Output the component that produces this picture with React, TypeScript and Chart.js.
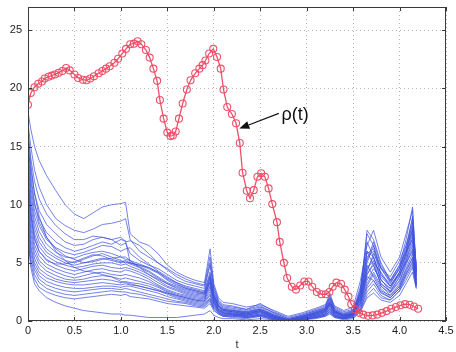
import React, { useEffect, useRef } from "react";
import { Chart, registerables } from "chart.js";

Chart.register(...registerables);

// ---- red curve rho(t) ----
const rhoT = [0, 0.03, 0.07, 0.11, 0.15, 0.18, 0.22, 0.255, 0.29, 0.33, 0.37, 0.41, 0.45, 0.5, 0.54, 0.59, 0.63, 0.67, 0.71, 0.76, 0.8, 0.84, 0.88, 0.93, 0.97, 1.015, 1.055, 1.1, 1.14, 1.18, 1.22, 1.27, 1.31, 1.35, 1.39, 1.42, 1.46, 1.5, 1.535, 1.56, 1.59, 1.625, 1.665, 1.71, 1.75, 1.8, 1.845, 1.88, 1.91, 1.95, 1.995, 2.035, 2.075, 2.105, 2.145, 2.195, 2.24, 2.28, 2.31, 2.355, 2.39, 2.43, 2.47, 2.51, 2.55, 2.59, 2.63, 2.68, 2.71, 2.755, 2.79, 2.84, 2.885, 2.93, 2.975, 3.02, 3.06, 3.11, 3.16, 3.205, 3.245, 3.28, 3.32, 3.37, 3.41, 3.45, 3.48, 3.52, 3.565, 3.61, 3.66, 3.71, 3.76, 3.81, 3.86, 3.91, 3.96, 4.01, 4.06, 4.11, 4.155, 4.2];
const rhoV = [18.6, 19.6, 20.1, 20.4, 20.6, 20.85, 21.0, 21.1, 21.2, 21.35, 21.5, 21.75, 21.55, 21.2, 20.9, 20.75, 20.7, 20.85, 21.05, 21.3, 21.5, 21.7, 21.9, 22.2, 22.55, 23.0, 23.4, 23.8, 23.85, 24.05, 23.8, 23.3, 22.65, 21.7, 20.65, 19.0, 17.4, 16.2, 15.9, 15.95, 16.3, 17.4, 18.7, 19.9, 20.7, 21.3, 21.7, 22.0, 22.4, 23.0, 23.4, 22.7, 21.7, 19.9, 18.4, 17.8, 17.0, 15.3, 12.75, 11.2, 10.55, 11.25, 12.4, 12.7, 12.4, 11.4, 10.05, 8.5, 6.8, 5.0, 3.7, 2.95, 2.7, 3.05, 3.4, 3.4, 2.95, 2.5, 2.3, 2.3, 2.5, 2.95, 3.3, 3.2, 2.7, 2.1, 1.45, 1.0, 0.7, 0.55, 0.45, 0.48, 0.55, 0.7, 0.85, 1.05, 1.2, 1.35, 1.45, 1.4, 1.25, 1.05];

// ---- blue trajectories (shared time grid) ----
const blueT = [0, 0.03, 0.07, 0.12, 0.2, 0.3, 0.4, 0.5, 0.6, 0.7, 0.8, 0.9, 1.0, 1.05, 1.1, 1.2, 1.3, 1.4, 1.5, 1.6, 1.7, 1.8, 1.9, 1.96, 2.0, 2.05, 2.1, 2.2, 2.35, 2.5, 2.65, 2.8, 2.95, 3.1, 3.2, 3.25, 3.3, 3.4, 3.5, 3.58, 3.65, 3.72, 3.8, 3.9, 4.0, 4.07, 4.14, 4.18];

const blue1 = [18, 16.5, 15, 13.8, 12.5, 11.2, 10, 9.2, 8.8, 9.3, 9.8, 10, 10.1, 10.2, 7.5, 6.8, 6.5, 5.8, 4.8, 4.2, 3.8, 3.5, 3.3, 6.2, 3.2, 2.0, 1.6, 1.5, 1.2, 1.4, 0.9, 0.4, 0.7, 1.1, 1.4, 2.0, 1.3, 0.9, 1.2, 3.5, 6.5, 7.8, 5.5, 4.2, 5.5, 7.5, 9.5, 4.5];
const blue2 = [17, 15, 13, 11.5, 10, 8.8, 8.2, 7.8, 7.6, 7.9, 8.3, 8.4, 8.6, 8.8, 7.0, 6.0, 5.5, 5.0, 4.5, 4.0, 3.6, 3.3, 3.1, 5.5, 3.0, 1.8, 1.4, 1.3, 1.0, 1.5, 0.8, 0.3, 0.6, 1.0, 1.3, 2.4, 1.2, 0.8, 1.0, 2.5, 7.8, 7.0, 5.0, 3.5, 4.8, 7.0, 9.8, 4.0];
const blue3 = [16, 14, 12, 10.5, 9.2, 8.2, 7.5, 7.0, 7.0, 7.3, 7.2, 7.0, 7.2, 6.8, 6.9, 6.5, 5.8, 5.0, 4.4, 3.8, 3.4, 3.2, 3.0, 5.0, 2.8, 1.7, 1.3, 1.2, 1.0, 1.3, 0.7, 0.2, 0.5, 0.9, 1.2, 2.2, 1.1, 0.7, 0.9, 2.2, 5.0, 6.5, 4.5, 3.8, 5.2, 6.5, 8.8, 3.8];
const blue4 = [15, 13, 11, 9.5, 8.3, 7.5, 6.8, 6.5, 6.6, 7.0, 7.2, 7.0, 6.5, 6.7, 5.8, 5.2, 4.8, 4.5, 4.0, 3.5, 3.2, 3.0, 2.8, 4.8, 2.6, 1.6, 1.2, 1.1, 0.9, 1.2, 0.7, 0.2, 0.5, 0.9, 1.1, 2.0, 1.0, 0.6, 0.8, 2.0, 4.5, 5.5, 3.5, 2.8, 4.2, 5.8, 8.0, 3.5];
const blue5 = [14.5, 12, 10, 8.8, 7.6, 6.8, 6.3, 6.0, 6.2, 6.5, 6.8, 6.6, 7.0, 6.9, 5.0, 4.8, 4.6, 4.2, 3.7, 3.3, 3.0, 2.8, 2.6, 4.2, 2.4, 1.5, 1.1, 1.0, 0.8, 1.1, 0.6, 0.1, 0.4, 0.8, 1.1, 1.9, 1.0, 0.6, 0.9, 3.0, 6.0, 4.8, 3.2, 2.5, 3.8, 5.5, 7.5, 3.2];
const blue6 = [14, 11.5, 9.5, 8.2, 7.0, 6.3, 5.9, 5.7, 5.9, 6.2, 6.5, 6.4, 6.0, 6.2, 6.3, 5.5, 4.9, 4.3, 3.8, 3.3, 2.9, 2.7, 2.5, 4.0, 2.3, 1.4, 1.0, 0.9, 0.8, 1.0, 0.5, 0.1, 0.4, 0.8, 1.0, 1.8, 0.9, 0.5, 0.7, 1.8, 4.0, 5.0, 4.2, 3.0, 4.0, 5.0, 6.5, 3.0];
const blue7 = [13.5, 11, 9, 7.7, 6.6, 5.9, 5.5, 5.4, 5.7, 5.9, 6.0, 5.8, 5.5, 5.3, 5.2, 4.9, 4.6, 4.2, 3.6, 3.2, 2.8, 2.6, 2.4, 3.6, 2.2, 1.3, 1.0, 0.9, 0.7, 1.0, 0.5, 0.1, 0.4, 0.7, 1.0, 1.7, 0.9, 0.5, 0.8, 2.5, 5.5, 6.0, 4.0, 3.2, 4.5, 6.0, 7.0, 4.2];
const blue8 = [13, 10.5, 8.5, 7.2, 6.2, 5.6, 5.2, 5.0, 5.3, 5.6, 5.8, 5.5, 5.2, 5.0, 5.0, 4.7, 4.3, 3.8, 3.3, 3.0, 2.7, 2.5, 2.3, 3.4, 2.1, 1.3, 0.9, 0.8, 0.7, 0.9, 0.4, 0.1, 0.3, 0.7, 0.9, 1.6, 0.8, 0.5, 0.6, 1.5, 3.5, 4.5, 3.6, 2.5, 3.5, 5.0, 6.0, 3.5];
const blue9 = [12.5, 10, 8, 6.8, 5.9, 5.4, 5.0, 4.8, 5.0, 5.2, 5.4, 5.2, 5.0, 5.1, 4.9, 4.6, 4.2, 3.7, 3.2, 2.8, 2.5, 2.3, 2.2, 3.2, 2.0, 1.2, 0.9, 0.8, 0.6, 0.9, 0.4, 0.1, 0.3, 0.6, 0.9, 1.5, 0.8, 0.4, 0.7, 2.8, 6.8, 5.5, 3.8, 3.0, 4.2, 5.8, 8.5, 4.5];
const blue10 = [12, 9.5, 7.5, 6.4, 5.6, 5.1, 4.8, 4.6, 4.7, 4.9, 5.0, 5.0, 4.8, 4.9, 4.7, 4.4, 4.0, 3.5, 3.0, 2.7, 2.4, 2.2, 2.1, 3.0, 1.9, 1.1, 0.8, 0.7, 0.6, 0.8, 0.4, 0.1, 0.3, 0.6, 0.8, 1.5, 0.7, 0.4, 0.6, 1.6, 4.5, 5.2, 3.0, 2.2, 3.2, 4.5, 5.8, 3.0];
const blue11 = [11.5, 9, 7, 6.0, 5.3, 4.8, 4.5, 4.3, 4.5, 4.7, 4.8, 4.6, 4.5, 4.6, 4.5, 4.2, 3.8, 3.3, 2.9, 2.6, 2.3, 2.1, 2.0, 2.9, 1.8, 1.0, 0.8, 0.7, 0.5, 0.8, 0.3, 0.0, 0.2, 0.5, 0.8, 1.4, 0.7, 0.4, 0.5, 1.2, 3.0, 4.0, 2.8, 2.0, 3.0, 4.2, 5.5, 3.2];
const blue12 = [11, 8.5, 6.6, 5.6, 4.9, 4.5, 4.2, 4.0, 4.2, 4.4, 4.5, 4.3, 4.2, 4.4, 4.3, 4.0, 3.6, 3.1, 2.7, 2.4, 2.2, 2.0, 1.9, 2.7, 1.7, 1.0, 0.7, 0.6, 0.5, 0.7, 0.3, 0.0, 0.2, 0.5, 0.7, 1.3, 0.6, 0.3, 0.5, 2.0, 5.2, 6.8, 4.8, 3.5, 4.8, 6.2, 7.8, 4.0];
const blue13 = [10.5, 8, 6.2, 5.2, 4.6, 4.2, 3.9, 3.7, 3.9, 4.1, 4.2, 4.0, 3.9, 4.0, 3.9, 3.7, 3.4, 3.0, 2.6, 2.3, 2.1, 1.9, 1.8, 2.5, 1.6, 0.9, 0.7, 0.6, 0.5, 0.7, 0.3, 0.0, 0.2, 0.5, 0.7, 1.2, 0.6, 0.3, 0.5, 1.4, 3.8, 3.5, 2.5, 2.0, 2.8, 4.0, 5.0, 3.0];
const blue14 = [10, 7.5, 5.8, 4.9, 4.3, 3.9, 3.6, 3.5, 3.6, 3.8, 3.9, 3.8, 3.6, 3.7, 3.6, 3.4, 3.2, 2.9, 2.5, 2.2, 2.0, 1.8, 1.7, 2.3, 1.5, 0.9, 0.6, 0.6, 0.4, 0.6, 0.3, 0.0, 0.2, 0.4, 0.6, 1.1, 0.5, 0.3, 0.4, 1.0, 2.5, 3.2, 2.2, 1.8, 2.6, 3.5, 4.6, 2.8];
const blue15 = [9.5, 7, 5.4, 4.5, 4.0, 3.6, 3.4, 3.3, 3.4, 3.5, 3.6, 3.5, 3.3, 3.4, 3.3, 3.2, 3.0, 2.7, 2.4, 2.1, 1.9, 1.7, 1.6, 2.2, 1.4, 0.8, 0.6, 0.5, 0.4, 0.6, 0.2, 0.0, 0.2, 0.4, 0.6, 1.0, 0.5, 0.3, 0.6, 2.2, 6.0, 5.5, 3.5, 2.8, 4.0, 5.2, 6.8, 3.8];
const blue16 = [9, 6.5, 5.0, 4.2, 3.7, 3.4, 3.2, 3.1, 3.1, 3.2, 3.3, 3.2, 3.1, 3.2, 3.1, 3.0, 2.8, 2.6, 2.3, 2.0, 1.8, 1.6, 1.5, 2.0, 1.3, 0.8, 0.5, 0.5, 0.4, 0.5, 0.2, 0.0, 0.2, 0.4, 0.6, 1.0, 0.5, 0.2, 0.4, 1.3, 3.2, 4.2, 3.0, 2.4, 3.4, 4.8, 6.2, 3.5];
const blue17 = [8.5, 6.2, 4.7, 3.9, 3.4, 3.1, 2.9, 2.8, 2.8, 2.9, 3.0, 3.0, 2.9, 3.0, 3.0, 2.8, 2.6, 2.4, 2.1, 1.9, 1.7, 1.5, 1.4, 1.9, 1.2, 0.7, 0.5, 0.5, 0.3, 0.5, 0.2, 0.0, 0.1, 0.3, 0.5, 0.9, 0.4, 0.2, 0.4, 1.8, 4.8, 3.8, 2.6, 2.2, 3.0, 4.4, 5.4, 3.3];
const blue18 = [8, 5.8, 4.4, 3.6, 3.1, 2.8, 2.6, 2.5, 2.6, 2.7, 2.8, 2.8, 2.7, 2.8, 2.7, 2.5, 2.3, 2.1, 1.9, 1.7, 1.6, 1.4, 1.3, 1.8, 1.1, 0.7, 0.5, 0.4, 0.3, 0.5, 0.2, 0.0, 0.1, 0.3, 0.5, 0.8, 0.4, 0.2, 0.3, 0.9, 2.2, 2.8, 2.0, 1.8, 2.6, 3.8, 4.8, 3.0];
const blue19 = [7.5, 5.4, 4.0, 3.3, 2.8, 2.5, 2.3, 2.2, 2.3, 2.4, 2.5, 2.6, 2.5, 2.5, 2.4, 2.3, 2.1, 1.9, 1.7, 1.6, 1.5, 1.3, 1.2, 1.7, 1.0, 0.6, 0.4, 0.4, 0.3, 0.4, 0.1, 0.0, 0.1, 0.3, 0.5, 0.8, 0.4, 0.2, 0.5, 1.6, 4.0, 4.8, 3.2, 2.6, 3.8, 5.2, 7.2, 4.2];
const blue20 = [7, 5.0, 3.6, 2.9, 2.5, 2.2, 2.0, 1.9, 2.0, 2.1, 2.2, 2.3, 2.2, 2.3, 2.1, 2.0, 1.9, 1.7, 1.5, 1.4, 1.3, 1.2, 1.1, 1.5, 0.9, 0.6, 0.4, 0.3, 0.2, 0.4, 0.1, 0.0, 0.1, 0.3, 0.4, 0.7, 0.3, 0.2, 0.3, 1.0, 2.8, 3.5, 2.4, 2.0, 2.8, 4.0, 5.2, 3.2];
const blue21 = [7, 4.6, 3.2, 2.6, 2.0, 1.6, 1.3, 1.1, 0.9, 0.8, 0.7, 0.6, 0.6, 0.5, 0.5, 0.4, 0.3, 0.3, 0.3, 0.3, 0.4, 0.5, 0.6, 0.9, 0.5, 0.3, 0.2, 0.2, 0.1, 0.2, 0.1, 0.0, 0.1, 0.2, 0.4, 0.6, 0.3, 0.1, 0.2, 0.8, 2.0, 2.4, 1.8, 1.6, 2.2, 3.2, 4.2, 2.8];
const blue22 = [16.5, 13.5, 11, 9, 7.2, 6.0, 5.2, 4.6, 4.3, 4.2, 4.0, 3.8, 3.4, 3.3, 3.2, 3.0, 2.8, 2.6, 2.4, 2.2, 2.0, 1.8, 1.7, 3.8, 1.6, 1.0, 0.7, 0.6, 0.5, 0.8, 0.3, 0.0, 0.3, 0.6, 0.8, 1.4, 0.7, 0.4, 0.6, 2.4, 5.8, 6.2, 4.5, 3.3, 4.5, 6.5, 8.2, 4.8];
const blue23 = [12, 9.2, 7.2, 6.0, 5.2, 4.9, 4.9, 5.1, 5.4, 5.7, 5.6, 5.3, 5.1, 5.2, 5.0, 4.8, 4.5, 4.1, 3.5, 3.1, 2.8, 2.6, 2.4, 3.8, 2.2, 1.3, 1.0, 0.9, 0.7, 1.0, 0.5, 0.1, 0.4, 0.7, 1.0, 1.6, 0.8, 0.5, 0.7, 2.0, 4.2, 5.8, 4.6, 3.4, 4.6, 6.0, 9.0, 4.4];
const blue24 = [15.5, 12.5, 10.2, 8.5, 7.2, 6.2, 5.6, 5.3, 5.0, 5.1, 5.3, 5.4, 5.5, 5.5, 5.2, 4.6, 4.0, 3.6, 3.2, 2.9, 2.6, 2.4, 2.3, 3.3, 2.0, 1.2, 0.9, 0.8, 0.6, 0.9, 0.4, 0.1, 0.3, 0.7, 0.9, 1.5, 0.8, 0.5, 0.6, 2.6, 7.5, 6.5, 4.0, 3.0, 4.2, 5.6, 7.8, 4.2];

const blueSeries = [blue1, blue2, blue3, blue4, blue5, blue6, blue7, blue8, blue9, blue10, blue11, blue12, blue13, blue14, blue15, blue16, blue17, blue18, blue19, blue20, blue21, blue22, blue23, blue24];

// ---- axes ----
const xTicks = [0, 0.5, 1, 1.5, 2, 2.5, 3, 3.5, 4, 4.5];
const yTicks = [0, 5, 10, 15, 20, 25];
const xMin = 0, xMax = 4.5, yMin = 0, yMax = 27;
const xLabel = "t";

// ---- annotation ----
const annotText = "ρ(t)";
const arrowTip = [2.275, 16.55];
const arrowTail = [2.7, 17.85];
const textAt = [2.73, 17.75];

const RED = "rgba(238,72,98,0.95)";
const BLUE = "rgba(62,82,220,0.72)";

const framePlugin = {
  id: "frame",
  afterDraw(chart: any) {
    const { ctx, chartArea, scales } = chart;
    const { left, right, top, bottom } = chartArea;
    const x = scales.x, y = scales.y;
    ctx.save();
    ctx.strokeStyle = "#3a3a3a";
    ctx.lineWidth = 1;
    ctx.strokeRect(Math.round(left) + 0.5, Math.round(top) + 0.5, Math.round(right - left) - 1, Math.round(bottom - top) - 1);
    ctx.beginPath();
    xTicks.forEach((v) => {
      const px = Math.round(x.getPixelForValue(v)) + 0.5;
      ctx.moveTo(px, bottom); ctx.lineTo(px, bottom - 4);
      ctx.moveTo(px, top); ctx.lineTo(px, top + 4);
    });
    yTicks.forEach((v) => {
      const py = Math.round(y.getPixelForValue(v)) + 0.5;
      ctx.moveTo(left, py); ctx.lineTo(left + 4, py);
      ctx.moveTo(right, py); ctx.lineTo(right - 4, py);
    });
    ctx.stroke();
    // annotation arrow
    const tx = x.getPixelForValue(arrowTip[0]);
    const ty = y.getPixelForValue(arrowTip[1]);
    const sx = x.getPixelForValue(arrowTail[0]);
    const sy = y.getPixelForValue(arrowTail[1]);
    const ang = Math.atan2(ty - sy, tx - sx);
    const hl = 10, hw = 4;
    const bx = tx - hl * Math.cos(ang), by = ty - hl * Math.sin(ang);
    ctx.strokeStyle = "#111";
    ctx.fillStyle = "#111";
    ctx.lineWidth = 1.2;
    ctx.beginPath();
    ctx.moveTo(sx, sy); ctx.lineTo(bx, by);
    ctx.stroke();
    ctx.beginPath();
    ctx.moveTo(tx, ty);
    ctx.lineTo(bx + hw * Math.sin(ang), by - hw * Math.cos(ang));
    ctx.lineTo(bx - hw * Math.sin(ang), by + hw * Math.cos(ang));
    ctx.closePath();
    ctx.fill();
    ctx.font = "18px 'Liberation Sans', Arial, sans-serif";
    ctx.textBaseline = "middle";
    ctx.textAlign = "left";
    ctx.fillText(annotText, x.getPixelForValue(textAt[0]), y.getPixelForValue(textAt[1]));
    ctx.restore();
  },
};

export default function App() {
  const ref = useRef<HTMLCanvasElement | null>(null);
  useEffect(() => {
    if (!ref.current) return;
    const datasets: any[] = [
      {
        label: "rho",
        data: rhoT.map((t, i) => ({ x: t, y: rhoV[i] })),
        borderColor: RED,
        backgroundColor: "rgba(0,0,0,0)",
        borderWidth: 1.3,
        pointRadius: 3.5,
        pointBorderWidth: 1.1,
        pointBorderColor: RED,
        pointBackgroundColor: "rgba(0,0,0,0)",
        tension: 0,
      },
      ...blueSeries.map((s, k) => ({
        label: "b" + (k + 1),
        data: blueT.map((t, i) => ({ x: t, y: s[i] })),
        borderColor: BLUE,
        borderWidth: 1,
        pointRadius: 0,
        tension: 0,
      })),
    ];
    const tickFont = { family: "'Liberation Sans', Arial, sans-serif", size: 11 };
    const chart = new Chart(ref.current, {
      type: "line",
      data: { datasets },
      plugins: [framePlugin],
      options: {
        animation: false,
        responsive: false,
        devicePixelRatio: 1,
        layout: { padding: { left: 0, right: 10, top: 7, bottom: 0 } },
        plugins: { legend: { display: false }, tooltip: { enabled: false } },
        scales: {
          x: {
            type: "linear",
            min: xMin,
            max: xMax,
            afterBuildTicks: (s: any) => { s.ticks = xTicks.map((v) => ({ value: v })); },
            afterFit: (s: any) => { s.height = 31; s.paddingLeft = 0; s.paddingRight = 0; },
            ticks: { font: tickFont, color: "#222", padding: 3, maxRotation: 0, autoSkip: false },
            grid: { color: "#b8b8b8", lineWidth: 1, drawTicks: false },
            border: { display: false, dash: [1, 3] },
            title: { display: true, text: xLabel, font: tickFont, color: "#333", padding: { top: 1, bottom: 0 } },
          },
          y: {
            type: "linear",
            min: yMin,
            max: yMax,
            afterBuildTicks: (s: any) => { s.ticks = yTicks.map((v) => ({ value: v })); },
            afterFit: (s: any) => { s.width = 28; s.paddingTop = 0; s.paddingBottom = 0; },
            ticks: { font: tickFont, color: "#222", padding: 6, autoSkip: false },
            grid: { color: "#b8b8b8", lineWidth: 1, drawTicks: false },
            border: { display: false, dash: [1, 3] },
          },
        },
      } as any,
    });
    return () => chart.destroy();
  }, []);
  return (
    <div style={{ position: "fixed", left: 0, top: 0, width: 456, height: 352, background: "#fff" }}>
      <canvas ref={ref} width={456} height={352} />
    </div>
  );
}
